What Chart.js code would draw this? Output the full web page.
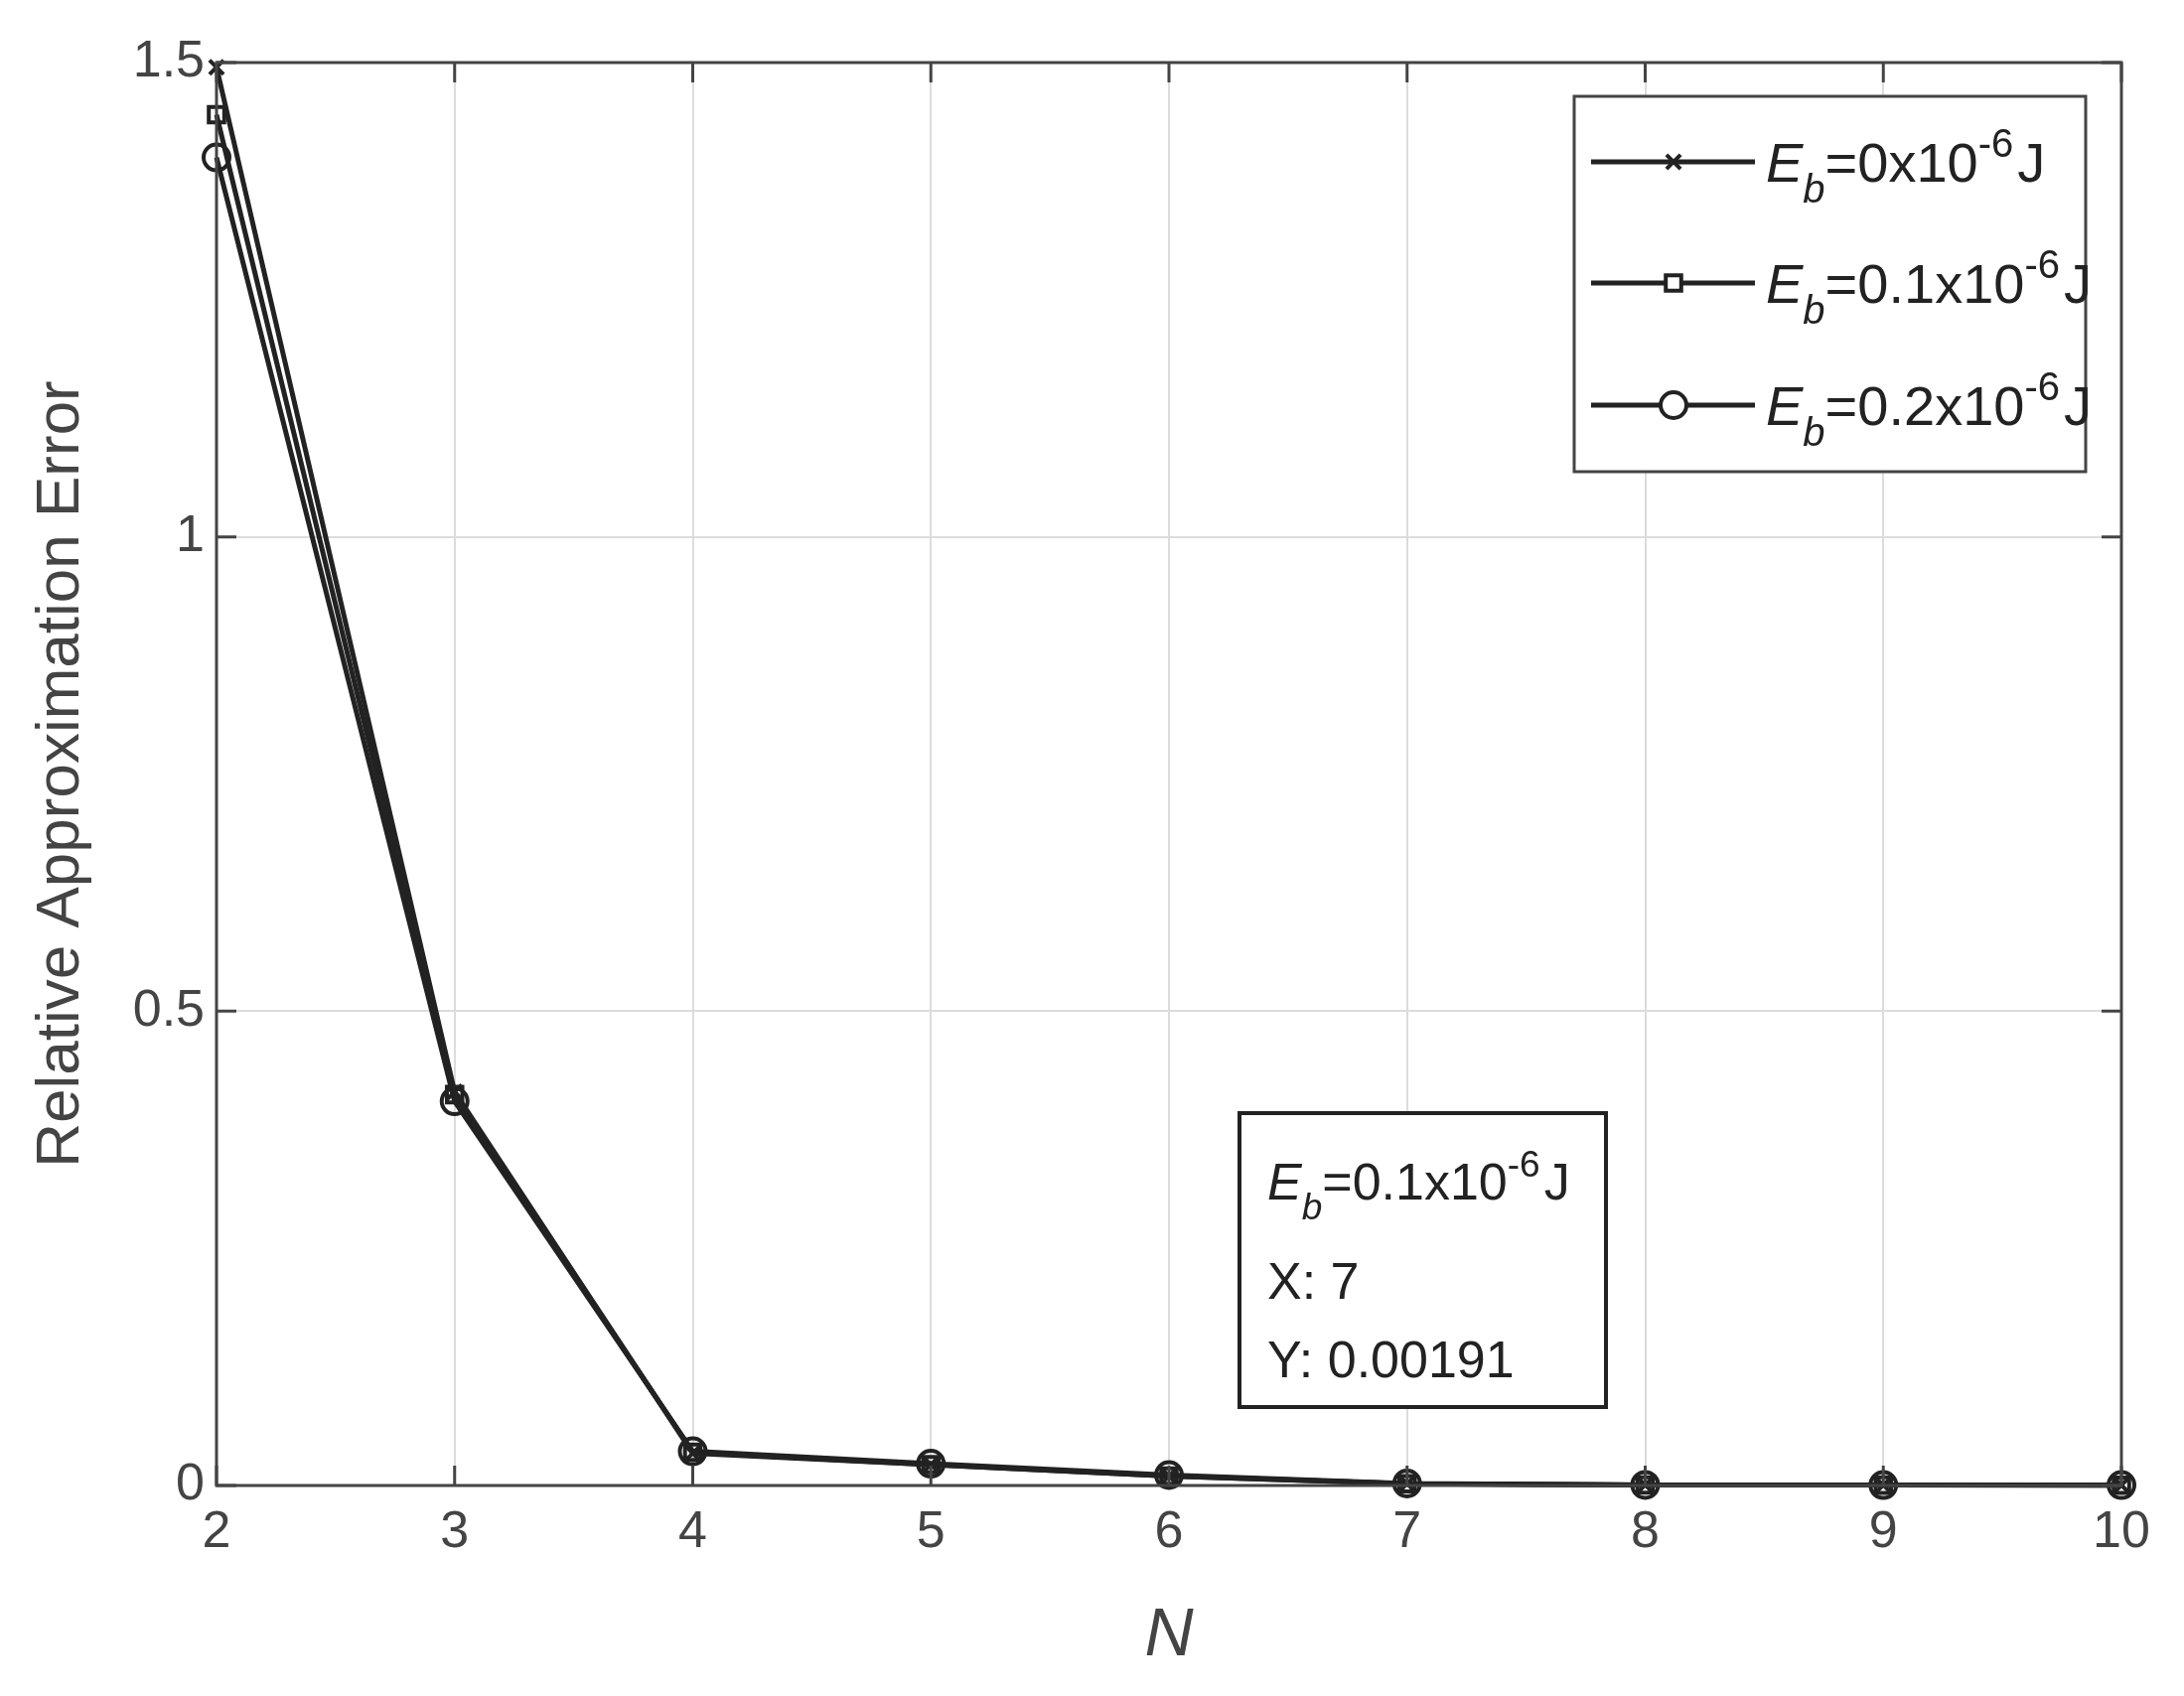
<!DOCTYPE html><html><head><meta charset="utf-8">
<script src="https://cdn.jsdelivr.net/npm/chart.js@4/dist/chart.umd.min.js"></script>
<style>html,body{margin:0;background:#fff}#w{width:2199px;height:1708px}</style></head><body>
<div id="w"><canvas id="c"></canvas></div>
<script>
const nValues=[2,3,4,5,6,7,8,9,10];
const eb0=[1.495,0.415,0.034,0.022,0.010,0.0019,0.0005,0.0004,0.0003];
const eb01=[1.445,0.412,0.035,0.022,0.010,0.0019,0.0005,0.0004,0.0003];
const eb02=[1.400,0.405,0.036,0.023,0.011,0.0021,0.0006,0.0005,0.0004];
const seriesLabels=['0','0.1','0.2'];
const yTicks=[0,0.5,1,1.5];
const annot={label:'0.1',x:'7',y:'0.00191'};
const C='#222';
const F='Arial, "Liberation Sans"';
const mk=(d,s,r,i)=>({label:seriesLabels[i],data:nValues.map((n,j)=>({x:n,y:d[j]})),borderColor:C,backgroundColor:'rgba(0,0,0,0)',borderWidth:5,pointStyle:s,pointRadius:r,pointBorderWidth:4,pointBorderColor:C,clip:false});
function ebText(ctx,x,y,val,fs){
  ctx.font='italic '+fs+'px '+F;ctx.textBaseline='alphabetic';ctx.textAlign='left';
  ctx.fillText('E',x,y);let w=ctx.measureText('E').width;
  ctx.font='italic '+Math.round(fs*0.72)+'px '+F;ctx.fillText('b',x+w,y+fs*0.38);w+=ctx.measureText('b').width;
  ctx.font=fs+'px '+F;const s='='+val+'x10';ctx.fillText(s,x+w,y);w+=ctx.measureText(s).width;
  ctx.font=Math.round(fs*0.72)+'px '+F;ctx.fillText('-6',x+w,y-fs*0.45);w+=ctx.measureText('-6').width;
  ctx.font=fs+'px '+F;ctx.fillText('J',x+w+4,y);
}
const deco={id:'deco',afterDraw(ch){
  const ctx=ch.ctx,a=ch.chartArea,xs=ch.scales.x,ys=ch.scales.y;
  ctx.save();ctx.strokeStyle='#444';ctx.lineWidth=3;
  ctx.strokeRect(a.left,a.top,a.right-a.left,a.bottom-a.top);
  ctx.beginPath();
  nValues.forEach(n=>{const p=xs.getPixelForValue(n);ctx.moveTo(p,a.bottom);ctx.lineTo(p,a.bottom-20);ctx.moveTo(p,a.top);ctx.lineTo(p,a.top+20);});
  yTicks.forEach(v=>{const p=ys.getPixelForValue(v);ctx.moveTo(a.left,p);ctx.lineTo(a.left+20,p);ctx.moveTo(a.right,p);ctx.lineTo(a.right-20,p);});
  ctx.stroke();
  ctx.fillStyle='#444';ctx.font='italic 68px '+F;ctx.textAlign='center';ctx.textBaseline='middle';
  ctx.fillText('N',(a.left+a.right)/2,1648);
  ctx.save();ctx.translate(62,(a.top+a.bottom)/2);ctx.rotate(-Math.PI/2);ctx.font='62px '+F;ctx.fillText('Relative Approximation Error',0,0);ctx.restore();
  ctx.fillStyle='#fff';ctx.fillRect(1585,97,515,378);ctx.strokeStyle='#444';ctx.lineWidth=3;ctx.strokeRect(1585,97,515,378);
  const styles=['crossRot','rect','circle'],rads=[10,11,13],ys0=[163,285,408];
  ys0.forEach((yy,i)=>{ctx.strokeStyle=C;ctx.lineWidth=5;ctx.beginPath();ctx.moveTo(1602,yy);ctx.lineTo(1767,yy);ctx.stroke();
    ctx.fillStyle='#fff';ctx.lineWidth=4;Chart.helpers.drawPoint(ctx,{pointStyle:styles[i],radius:rads[i],borderWidth:4},1685,yy);
    ctx.fillStyle=C;ebText(ctx,1778,yy+20,seriesLabels[i],56);});
  ctx.fillStyle='#fff';ctx.fillRect(1248,1121,369,296);ctx.strokeStyle=C;ctx.lineWidth=4;ctx.strokeRect(1248,1121,369,296);
  ctx.fillStyle=C;ebText(ctx,1276,1208,annot.label,52);
  ctx.font='52px '+F;ctx.textAlign='left';ctx.textBaseline='alphabetic';ctx.fillText('X: '+annot.x,1276,1308);ctx.fillText('Y: '+annot.y,1276,1387);
  ctx.restore();}};
new Chart(document.getElementById('c'),{type:'line',
 data:{datasets:[mk(eb0,'crossRot',10,0),mk(eb01,'rect',11,1),mk(eb02,'circle',13,2)]},
 options:{responsive:true,maintainAspectRatio:false,animation:false,
  layout:{padding:{left:0,right:63,top:63,bottom:0}},
  plugins:{legend:{display:false},tooltip:{enabled:false}},
  scales:{
   x:{type:'linear',min:2,max:10,afterBuildTicks:s=>{s.ticks=nValues.map(v=>({value:v}));},afterFit:s=>{s.height=212;},
      grid:{color:'#dcdcdc',lineWidth:2,tickLength:0,drawTicks:false},border:{display:false},
      ticks:{color:'#444',font:{size:52,family:F},padding:16,maxRotation:0}},
   y:{min:0,max:1.5,afterBuildTicks:s=>{s.ticks=yTicks.map(v=>({value:v}));},afterFit:s=>{s.width=218;},
      grid:{color:'#dcdcdc',lineWidth:2,drawTicks:false},border:{display:false},
      ticks:{color:'#444',font:{size:52,family:F},padding:12,callback:v=>String(v)}}}},
 plugins:[deco]});
</script></body></html>
